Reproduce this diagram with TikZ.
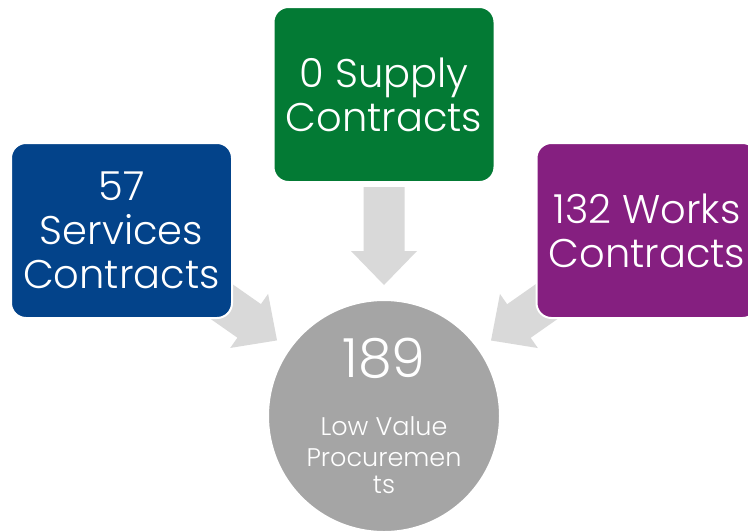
\documentclass[tikz,border=0pt]{standalone}
\usepackage{fontspec}
\setmainfont{Poppins}[UprightFont=* Light]
\usetikzlibrary{calc,backgrounds}
\definecolor{boxblue}{RGB}{3,67,138}
\definecolor{boxgreen}{RGB}{3,122,52}
\definecolor{boxpurple}{RGB}{133,31,128}
\definecolor{circgray}{RGB}{165,165,165}
\definecolor{arrowgray}{RGB}{217,217,217}
\tikzset{
  catbox/.style={rectangle, rounded corners=15pt, minimum width=221pt, minimum height=175pt,
    inner sep=0pt, draw=white, line width=2pt, text=white, align=center,
    font=\fontsize{40}{44}\selectfont},
  totalcirc/.style={circle, minimum size=232pt, inner sep=0pt, fill=circgray, draw=white,
    line width=2pt, text=white, align=center, font=\fontsize{25.5}{28}\selectfont},
  blockarrow/.style={fill=arrowgray}
}
\begin{document}
\begin{tikzpicture}[x=1pt,y=-1pt]
\clip (0,0) rectangle (748,531);
\node[catbox, fill=boxblue] (blue) at (121.5,230.5) {57\\Services\\Contracts};
\node[catbox, fill=boxgreen] (green) at (384,94.5) {0 Supply\\Contracts};
\node[catbox, fill=boxpurple] (purple) at (647,230.5) {132 Works\\Contracts};
\node[totalcirc] (total) at (384,416) {{\fontsize{54}{58}\selectfont 189}\\[30pt]
  Low Value\\[3pt]Procuremen\\[-1pt]ts};
\coordinate (tipS) at ($(total.center)!131pt!(green.center)$);
\coordinate (tipB) at ($(total.center)!131pt!(blue.center)$);
\coordinate (tipW) at ($(total.center)!131pt!(purple.center)$);
\begin{scope}[on background layer]
  \fill[white] (0,0) rectangle (748,531);
  \fill[blockarrow, shift={(tipS)}, rotate=-90] (0,0) -- (-34,33) -- (-34,20.5) -- (-98,20.5) -- (-98,-20.5) -- (-34,-20.5) -- (-34,-33) -- cycle;
  \fill[blockarrow, shift={(tipB)}, rotate=-35] (0,0) -- (-34,33) -- (-34,20.5) -- (-98,20.5) -- (-98,-20.5) -- (-34,-20.5) -- (-34,-33) -- cycle;
  \fill[blockarrow, shift={(tipW)}, rotate=-145] (0,0) -- (-34,33) -- (-34,20.5) -- (-98,20.5) -- (-98,-20.5) -- (-34,-20.5) -- (-34,-33) -- cycle;
\end{scope}
\end{tikzpicture}
\end{document}
